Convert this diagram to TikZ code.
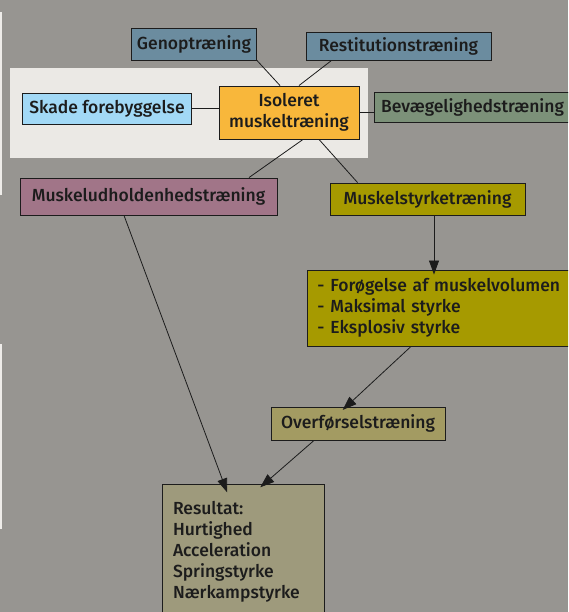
\documentclass[tikz,border=0pt]{standalone}
\usepackage{fontspec}
\setmainfont{Fira Sans}[UprightFont={* Medium}]
\usetikzlibrary{arrows.meta}

\definecolor{bgcol}{HTML}{979591}
\definecolor{panelcol}{HTML}{EBE9E5}
\definecolor{genopcol}{HTML}{6B8C9F}
\definecolor{skadecol}{HTML}{A2D9F6}
\definecolor{isocol}{HTML}{F8B73B}
\definecolor{bevcol}{HTML}{7C9179}
\definecolor{udholdcol}{HTML}{A17588}
\definecolor{styrkecol}{HTML}{A69A00}
\definecolor{overfcol}{HTML}{A39B62}
\definecolor{rescol}{HTML}{9E9A7C}
\definecolor{inkcol}{HTML}{1C1C1C}

\begin{document}
\begin{tikzpicture}[x=1pt, y=-1pt,
                    box/.style={draw=inkcol, line width=0.9pt, rectangle, text=inkcol,
                                inner sep=0pt, font=\fontsize{17.5}{21}\selectfont},
                    link/.style={draw=inkcol, line width=0.8pt},
                    arr/.style={link, -{Triangle[length=14pt, width=10pt]}}]
                    \useasboundingbox (0,0) rectangle (568,612);
                    \clip (0,0) rectangle (568,612);
                    \fill[bgcol] (0,0) rectangle (568,612);
                    \fill[panelcol!85!white] (0,12) rectangle (1.5,195);
                    \fill[panelcol!85!white] (0,344) rectangle (1.5,529);
                    \fill[panelcol] (10,68) rectangle (368,158);

                    % top row
                    \node[box, fill=genopcol, minimum width=125pt, minimum height=32pt] (genop) at (194,44) {Genoptræning};
                    \node[box, fill=genopcol, minimum width=185pt, minimum height=28pt] (restit) at (398.5,46) {Restitutionstræning};

                    % middle row
                    \node[box, fill=skadecol, minimum width=168.5pt, minimum height=31pt] (skade) at (107,108.5) {Skade forebyggelse};
                    \node[box, fill=isocol, minimum width=140pt, minimum height=53pt, align=center] (iso) at (289,112.5) {Isoleret\\muskeltræning};
                    \node[box, fill=bevcol, minimum width=197pt, minimum height=30pt] (bev) at (472.5,107) {Bevægelighedstræning};

                    % training types
                    \node[box, fill=udholdcol, minimum width=257pt, minimum height=37pt] (udhold) at (148.5,196.5) {Muskeludholdenhedstræning};
                    \node[box, fill=styrkecol, minimum width=195pt, minimum height=32pt] (styrke) at (427.5,199) {Muskelstyrketræning};
                    \node[box, fill=styrkecol, anchor=west, text width=255pt, inner xsep=10pt, minimum height=76pt, align=left] (forog) at (307,308)
                        {- Forøgelse af muskelvolumen\\- Maksimal styrke\\- Eksplosiv styrke};
                    \node[box, fill=overfcol, minimum width=174pt, minimum height=33pt] (overf) at (358,423.5) {Overførselstræning};
                    \node[box, fill=rescol, anchor=north, text width=140pt, inner xsep=11pt, inner ysep=17pt, align=left] (res) at (243,484)
                        {Resultat:\\Hurtighed\\Acceleration\\Springstyrke\\Nærkampstyrke};

                    % connectors
                    \draw[link] (genop.south east) -- ([xshift=-9pt]iso.north);
                    \draw[link] ([xshift=26pt]restit.south west) -- ([xshift=10pt]iso.north);
                    \draw[link] (skade.east) -- (skade.east -| iso.west);
                    \draw[link] (iso.east) -- (iso.east -| bev.west);
                    \draw[link] ([xshift=14pt]iso.south) -- ([xshift=100.5pt]udhold.north);
                    \draw[link] ([xshift=30pt]iso.south) -- ([xshift=28pt]styrke.north west);

                    \draw[arr, shorten >=-5pt] ([xshift=6.5pt]styrke.south) -- ([xshift=6.5pt]styrke.south |- forog.north);
                    \draw[arr, shorten >=-5pt] ([xshift=104pt]forog.south west) -- ([xshift=-11.7pt]overf.north);
                    \draw[arr, shorten >=-9pt] ([xshift=-24.5pt]udhold.south) -- ([xshift=62.5pt]res.north west);
                    \draw[arr, shorten >=-5pt] ([xshift=-44pt]overf.south) -- ([xshift=102.5pt]res.north west);

                \end{tikzpicture}
\end{document}
